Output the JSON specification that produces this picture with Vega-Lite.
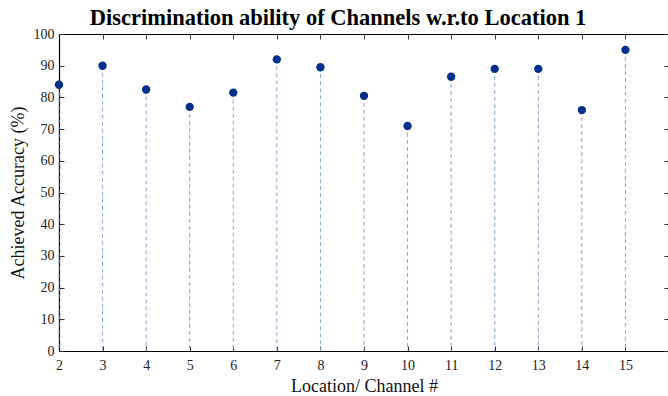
{
  "$schema": "https://vega.github.io/schema/vega-lite/v6.json",
  "autosize": {"type": "none"},
  "padding": {"left": 59, "top": 34, "right": 0, "bottom": 45},
  "width": 610,
  "height": 317,
  "background": "white",
  "title": {
    "text": "Discrimination ability of Channels w.r.to Location 1",
    "font": "Liberation Serif",
    "fontSize": 22.5,
    "fontWeight": "bold",
    "color": "black",
    "anchor": "middle",
    "dx": -26,
    "offset": -2
  },
  "config": {
    "view": {"stroke": null},
    "axis": {
      "labelFont": "Liberation Serif",
      "titleFont": "Liberation Serif",
      "labelFontSize": 14,
      "labelColor": "#222",
      "titleFontWeight": "normal",
      "titleColor": "#111",
      "domainColor": "black",
      "domainWidth": 1.2,
      "tickColor": "#333",
      "grid": false
    }
  },
  "data": {
    "values": [
      {"channel": 2, "accuracy": 84},
      {"channel": 3, "accuracy": 90},
      {"channel": 4, "accuracy": 82.5},
      {"channel": 5, "accuracy": 77},
      {"channel": 6, "accuracy": 81.5},
      {"channel": 7, "accuracy": 92},
      {"channel": 8, "accuracy": 89.5},
      {"channel": 9, "accuracy": 80.5},
      {"channel": 10, "accuracy": 71},
      {"channel": 11, "accuracy": 86.5},
      {"channel": 12, "accuracy": 89},
      {"channel": 13, "accuracy": 89},
      {"channel": 14, "accuracy": 76},
      {"channel": 15, "accuracy": 95}
    ]
  },
  "resolve": {"axis": {"x": "independent", "y": "independent"}},
  "layer": [
    {
      "mark": {"type": "rule", "color": "#86a3d8", "strokeDash": [4, 3], "strokeWidth": 1},
      "encoding": {
        "x": {
          "field": "channel", "type": "quantitative",
          "scale": {"domain": [2, 16], "nice": false, "zero": false},
          "axis": {
            "orient": "bottom",
            "title": "Location/ Channel #",
            "titleFontSize": 18,
            "titlePadding": 5,
            "values": [2,3,4,5,6,7,8,9,10,11,12,13,14,15],
            "tickSize": -5,
            "labelPadding": 12,
            "labelFlush": false
          }
        },
        "y": {
          "field": "accuracy", "type": "quantitative",
          "scale": {"domain": [0, 100], "nice": false},
          "axis": {
            "orient": "left",
            "title": "Achieved Accuracy (%)",
            "titleFontSize": 18,
            "titlePadding": 6,
            "values": [0,10,20,30,40,50,60,70,80,90,100],
            "tickSize": -5,
            "labelPadding": 10
          }
        },
        "y2": {"datum": 0}
      }
    },
    {
      "mark": {"type": "circle", "color": "#00308a", "opacity": 1, "size": 70},
      "encoding": {
        "x": {
          "field": "channel", "type": "quantitative",
          "axis": {
            "orient": "top", "title": null, "labels": false,
            "values": [2,3,4,5,6,7,8,9,10,11,12,13,14,15,16],
            "tickSize": -5
          }
        },
        "y": {
          "field": "accuracy", "type": "quantitative",
          "axis": {
            "orient": "right", "title": null, "labels": false,
            "values": [0,10,20,30,40,50,60,70,80,90,100],
            "tickSize": -5
          }
        }
      }
    }
  ]
}
